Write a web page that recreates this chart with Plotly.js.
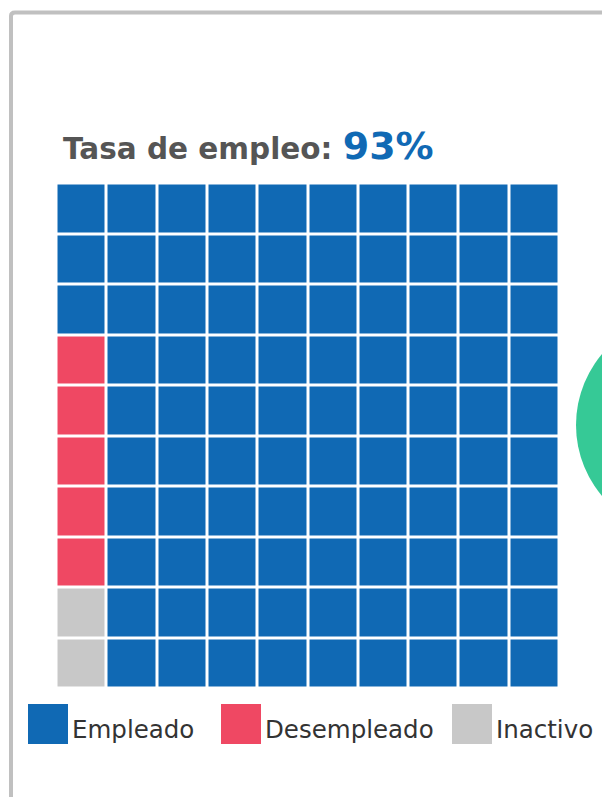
<!DOCTYPE html>
<html>
<head>
<meta charset="utf-8">
<script src="https://cdn.plot.ly/plotly-3.0.1.min.js"></script>
<style>html,body{margin:0;padding:0;background:#fff;}#chart{width:602px;height:797px;}</style>
</head>
<body>
<div id="chart"></div>
<script>
// ---- data ----
const categories = ["Empleado", "Desempleado", "Inactivo"];
const counts = [93, 5, 2];            // out of 100 squares
const colors = ["#1069B4", "#EF4863", "#C8C8C8"];
const titleLabel = "Tasa de empleo:";
const fillOrder = [2, 1, 0];          // fill bottom-up, column by column: Inactivo, Desempleado, Empleado
const gridSize = 10;

// ---- build waffle grid ----
const z = [];
for (let r = 0; r < gridSize; r++) z.push(new Array(gridSize).fill(0));
let idx = 0;
fillOrder.forEach(function (c) {
  for (let k = 0; k < counts[c]; k++) {
    const col = Math.floor(idx / gridSize);
    const row = idx % gridSize; // row 0 = bottom
    z[row][col] = c;
    idx++;
  }
});
const total = counts.reduce((a, b) => a + b, 0);
const rate = Math.round(counts[0] / total * 100);

const W = 602, H = 797;
const px = v => v / W;
const py = v => 1 - v / H;

const trace = {
  type: "heatmap",
  z: z,
  x: Array.from({length: gridSize}, (_, i) => i),
  y: Array.from({length: gridSize}, (_, i) => i),
  zmin: 0, zmax: 2,
  colorscale: [[0, colors[0]], [0.5, colors[1]], [1, colors[2]]],
  showscale: false,
  xgap: 3, ygap: 3,
  hoverinfo: "skip"
};

const legendX = [28, 221, 452];
const shapes = [
  // frame (left and top lines)
  {type: "path", xref: "paper", yref: "paper",
   path: "M " + px(11) + "," + py(800) + " L " + px(11) + "," + py(16) + " Q " + px(11) + "," + py(12.5) + " " + px(15) + "," + py(12.5) + " L " + px(610) + "," + py(12.5),
   line: {color: "#C0C0C0", width: 4}},
  // decorative green circle at right edge
  {type: "circle", xref: "paper", yref: "paper",
   x0: px(576), x1: px(796), y0: py(315), y1: py(535),
   fillcolor: "#36C996", line: {width: 0}}
];
const annotations = [
  {xref: "paper", yref: "paper", x: px(61), y: py(170), xanchor: "left", yanchor: "bottom",
   showarrow: false,
   text: "<b>" + titleLabel + " </b><b><span style=\"font-size:38px;color:#1069B4\">" + rate + "%</span></b>",
   font: {family: "DejaVu Sans", size: 29.5, color: "#555555"}}
];
categories.forEach(function (c, i) {
  shapes.push({type: "rect", xref: "paper", yref: "paper",
    x0: px(legendX[i]), x1: px(legendX[i] + 40), y0: py(744), y1: py(704),
    fillcolor: colors[i], line: {width: 0}});
  annotations.push({xref: "paper", yref: "paper", x: px(legendX[i] + 42), y: py(729),
    xanchor: "left", yanchor: "middle", showarrow: false, text: c,
    font: {family: "DejaVu Sans", size: 24.5, color: "#333333"}});
});

const layout = {
  width: W, height: H,
  margin: {l: 0, r: 0, t: 0, b: 0},
  paper_bgcolor: "#ffffff", plot_bgcolor: "#ffffff",
  xaxis: {domain: [px(56.5), px(559.5)], range: [-0.5, 9.5], visible: false, fixedrange: true},
  yaxis: {domain: [py(688.5), py(183.5)], range: [-0.5, 9.5], visible: false, fixedrange: true},
  shapes: shapes,
  annotations: annotations,
  showlegend: false
};

Plotly.newPlot("chart", [trace], layout, {displayModeBar: false, staticPlot: true});
</script>
</body>
</html>
